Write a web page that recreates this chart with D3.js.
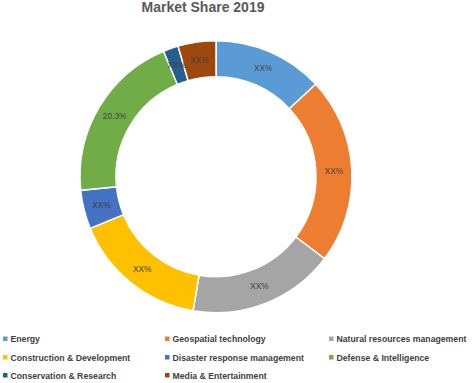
<!DOCTYPE html>
<html><head><meta charset="utf-8">
<script src="https://cdn.jsdelivr.net/npm/d3@7"></script>
<style>html,body{margin:0;padding:0;background:#fff;}svg{display:block;}</style>
</head><body>
<svg id="chart" width="472" height="383"></svg>
<script>
const title = "Market Share 2019";
const categories = ["Energy","Geospatial technology","Natural resources management","Construction & Development","Disaster response management","Defense & Intelligence","Conservation & Research","Media & Entertainment"];
const shares = [13.1, 22.2, 17.4, 16.1, 4.6, 20.3, 1.8, 4.5];
const labels = ["XX%","XX%","XX%","XX%","XX%","20.3%","XX%","XX%"];
const colors = ["#5B9BD5","#ED7D31","#A5A5A5","#FFC000","#4472C4","#70AD47","#255E91","#9E480E"];

const svg = d3.select("#chart");
const cx = 216, cy = 176.7, rOuter = 136, rInner = 100;
const font = "'Liberation Sans',Arial,sans-serif";

svg.append("text").attr("x", 203).attr("y", 11.5).attr("text-anchor","middle")
  .attr("font-family",font).attr("font-weight","bold")
  .attr("font-size", 14).attr("fill","#595959").text(title);

const pie = d3.pie().sort(null).value(d => d)(shares);
const arc = d3.arc().innerRadius(rInner).outerRadius(rOuter);
const labelArc = d3.arc().innerRadius((rInner+rOuter)/2).outerRadius((rInner+rOuter)/2);
const g = svg.append("g").attr("transform", `translate(${cx},${cy})`);
g.selectAll("path").data(pie).join("path")
  .attr("d", arc).attr("fill", (d,i) => colors[i])
  .attr("stroke","#fff").attr("stroke-width",1.5);
g.selectAll("text").data(pie).join("text")
  .attr("transform", d => `translate(${labelArc.centroid(d)})`)
  .attr("text-anchor","middle").attr("dy","0.35em")
  .attr("font-family", font).attr("font-size", 8.3).attr("fill","#404040")
  .text((d,i) => labels[i]);

const colX = [3, 165, 329];
const rowY = [339, 357.5, 375.5];
const leg = svg.append("g");
categories.forEach((c,i) => {
  const col = i % 3, row = Math.floor(i / 3);
  const gi = leg.append("g").attr("transform", `translate(${colX[col]},${rowY[row]})`);
  gi.append("rect").attr("x",0).attr("y",-2.5).attr("width",4.5).attr("height",4.5).attr("fill",colors[i]);
  gi.append("text").attr("x",7.5).attr("y",0).attr("dy","0.35em")
    .attr("font-family", font).attr("font-weight","bold").attr("font-size",8.7)
    .attr("fill","#404040").text(c);
});
</script>
</body></html>
